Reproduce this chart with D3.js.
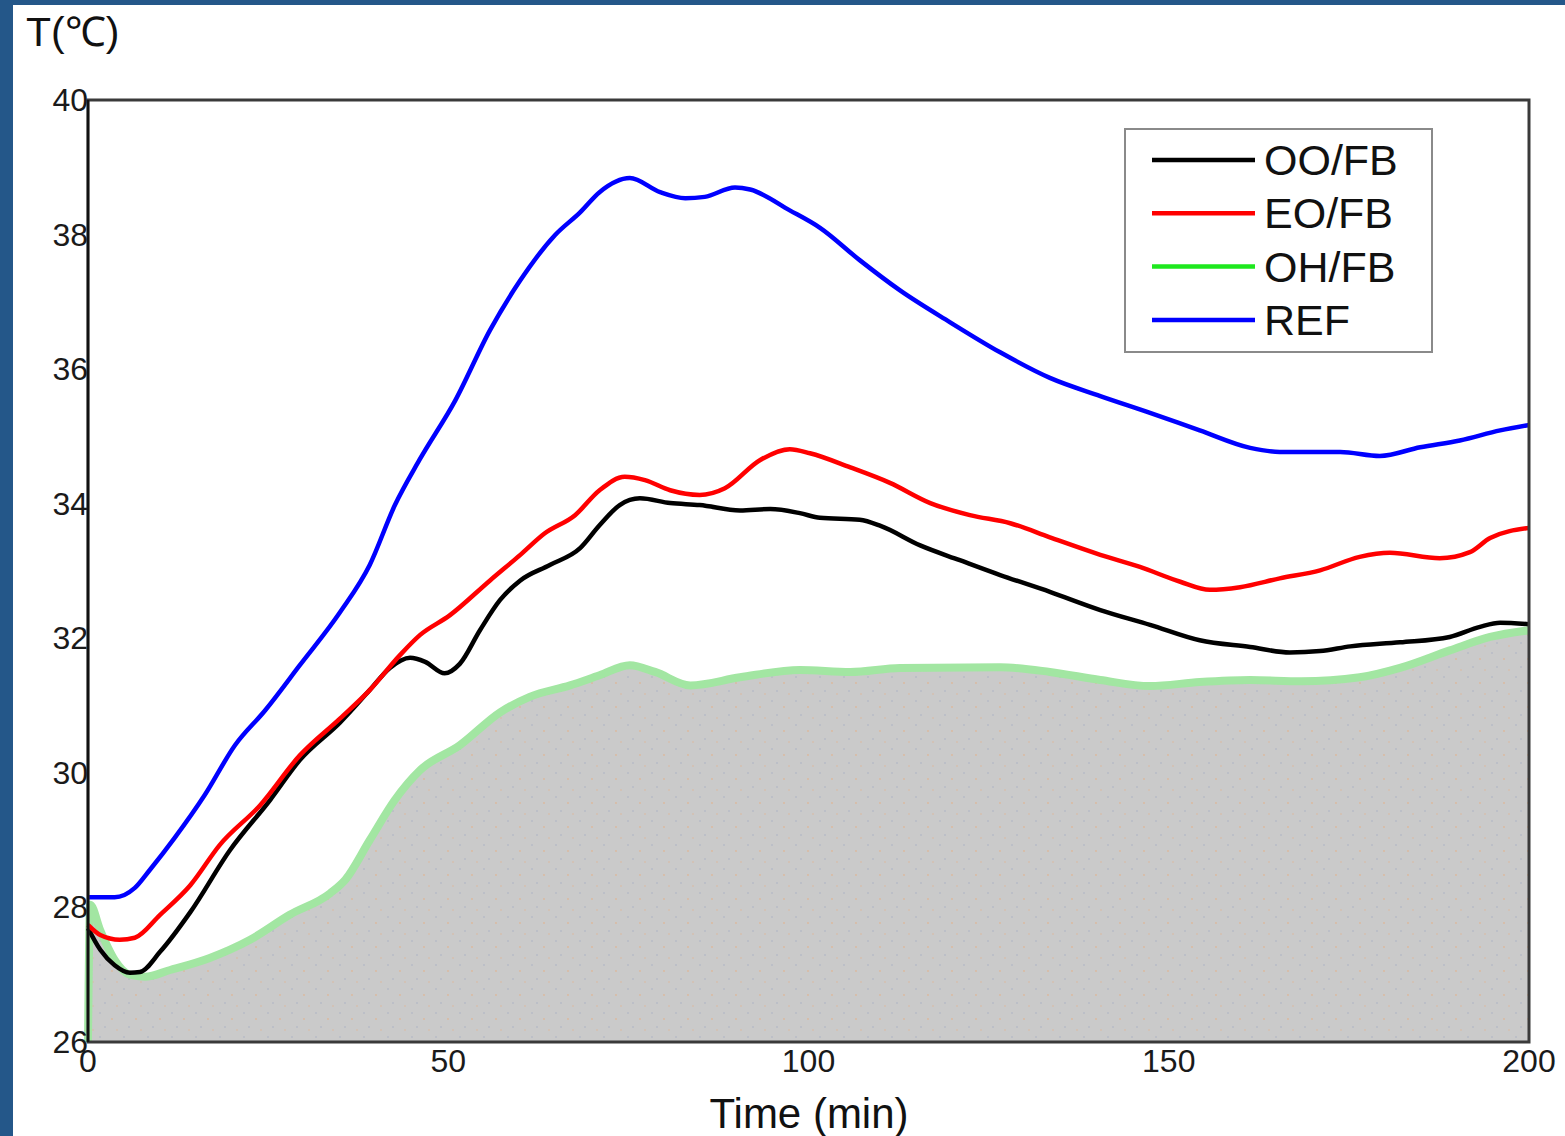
<!DOCTYPE html>
<html>
<head>
<meta charset="utf-8">
<script src="https://cdn.jsdelivr.net/npm/d3@7"></script>
<style>
  body { margin: 0; background: #fff; }
  svg { display: block; font-family: "Liberation Sans", Arial, sans-serif; }
</style>
</head>
<body>
<div id="chart"></div>
<script>
// values (time in min, temperature in degC)
var ooTime = [0, 1.7, 3.7, 5.8, 7.2, 10, 14.2, 19.7, 25.3, 29.4, 35, 39.1, 41.9, 44.7, 46.8, 49.5, 51.6, 54.4, 57.2, 60, 64.1, 68.3, 71, 73.8, 76.6, 80.8, 84.9, 90.5, 94.7, 98.8, 101.6, 107.1, 110, 115.5, 121, 126.6, 133.5, 140.5, 147.4, 154.3, 161.3, 166.8, 171, 175.2, 182.1, 189, 193.2, 196, 200];
var ooTemp = [27.69, 27.37, 27.14, 27.03, 27.04, 27.34, 27.93, 28.85, 29.6, 30.19, 30.75, 31.23, 31.56, 31.71, 31.65, 31.48, 31.62, 32.12, 32.57, 32.86, 33.09, 33.34, 33.68, 33.98, 34.08, 34.01, 33.98, 33.9, 33.92, 33.86, 33.79, 33.76, 33.67, 33.38, 33.16, 32.94, 32.69, 32.42, 32.2, 31.97, 31.87, 31.79, 31.81, 31.88, 31.94, 32.02, 32.17, 32.23, 32.21];

var eoTime = [0, 1.7, 4.4, 6.5, 10, 14.2, 18.3, 23.9, 29.4, 35, 39.1, 43.3, 46.1, 50.2, 55.8, 60, 63.4, 67.6, 71, 74.5, 77.3, 80.8, 84.9, 88.4, 93.3, 97.4, 100.2, 105.8, 111.3, 116.9, 122.4, 128, 133.5, 140.5, 146, 151.6, 155.7, 159.9, 165.4, 171, 176.5, 180.7, 187.6, 191.8, 194.6, 200];
var eoTemp = [27.74, 27.59, 27.52, 27.55, 27.89, 28.33, 28.93, 29.52, 30.26, 30.81, 31.23, 31.75, 32.05, 32.34, 32.86, 33.24, 33.56, 33.83, 34.2, 34.4, 34.35, 34.2, 34.13, 34.23, 34.65, 34.81, 34.75, 34.54, 34.31, 34.01, 33.83, 33.71, 33.5, 33.24, 33.06, 32.84, 32.72, 32.76, 32.89, 33.01, 33.21, 33.27, 33.19, 33.28, 33.49, 33.64];

var ohTime = [0, 0.3, 1.7, 3.7, 5.8, 7.9, 11.4, 16.9, 22.5, 28, 33.6, 35.7, 39.1, 42.6, 46.1, 51.6, 57.2, 61.3, 66.9, 71, 75.2, 78.7, 83.6, 90.5, 98.8, 105.8, 112.7, 126.6, 133.5, 140.5, 147.4, 154.3, 161.3, 168.4, 176.5, 182.1, 189, 194.6, 200];
var ohTemp = [26, 28.04, 27.66, 27.22, 27.0, 26.97, 27.07, 27.25, 27.52, 27.89, 28.21, 28.41, 29.0, 29.6, 30.04, 30.41, 30.9, 31.13, 31.3, 31.45, 31.6, 31.5, 31.3, 31.42, 31.53, 31.5, 31.56, 31.57, 31.5, 31.38, 31.29, 31.35, 31.38, 31.36, 31.42, 31.56, 31.82, 32.02, 32.12];

var refTime = [0, 3.7, 6.5, 8.6, 12, 16.2, 20.4, 24.6, 29.4, 35, 39.1, 42.6, 46, 51, 55.8, 60, 64.8, 68.3, 71, 75.2, 79.4, 82.9, 85.6, 89.8, 91.9, 97.4, 101.6, 107.1, 112.7, 119.6, 126.6, 133.5, 140.5, 147.4, 154.3, 161.3, 165.4, 173.8, 179.3, 184.9, 190.4, 196, 200];
var refTemp = [28.15, 28.15, 28.29, 28.56, 29.03, 29.67, 30.41, 30.93, 31.6, 32.39, 33.09, 33.98, 34.65, 35.54, 36.58, 37.32, 37.99, 38.33, 38.63, 38.84, 38.63, 38.54, 38.56, 38.7, 38.67, 38.36, 38.1, 37.62, 37.17, 36.7, 36.25, 35.87, 35.6, 35.35, 35.09, 34.83, 34.77, 34.77, 34.71, 34.84, 34.94, 35.09, 35.17];

var seriesNames = ["OO/FB", "EO/FB", "OH/FB", "REF"];
var xTicks = [0, 50, 100, 150, 200];
var yTicks = [26, 28, 30, 32, 34, 36, 38, 40];

function pairs(ts, vs) {
  return ts.map(function(t, i) { return { t: t, v: vs[i] }; });
}

var W = 1565, H = 1136;
var svg = d3.select("#chart").append("svg")
    .attr("width", W)
    .attr("height", H);

// frame of the screenshot
svg.append("rect").attr("width", W).attr("height", H).attr("fill", "#fff");
svg.append("rect").attr("x", 0).attr("y", 0).attr("width", W).attr("height", 5).attr("fill", "#245789");
svg.append("rect").attr("x", 0).attr("y", 0).attr("width", 13).attr("height", H).attr("fill", "#245789");

var x = d3.scaleLinear().domain([0, 200]).range([88, 1529]);
var y = d3.scaleLinear().domain([26, 40]).range([1042, 100]);

// dotted grey texture under OH/FB
var defs = svg.append("defs");
var pat = defs.append("pattern")
    .attr("id", "dots")
    .attr("patternUnits", "userSpaceOnUse")
    .attr("width", 24).attr("height", 24);
pat.append("rect").attr("width", 24).attr("height", 24).attr("fill", "#cacaca");
pat.append("circle").attr("cx", 4).attr("cy", 5).attr("r", 0.9).attr("fill", "#b6bac6");
pat.append("circle").attr("cx", 16).attr("cy", 11).attr("r", 0.9).attr("fill", "#dcb89c");
pat.append("circle").attr("cx", 9).attr("cy", 19).attr("r", 0.9).attr("fill", "#b6bac6");
pat.append("circle").attr("cx", 21).attr("cy", 22).attr("r", 0.8).attr("fill", "#dcb89c");

var ohData = pairs(ohTime, ohTemp);

svg.append("path")
    .datum(ohData)
    .attr("fill", "url(#dots)")
    .attr("d", d3.area()
        .x(function(d) { return x(d.t); })
        .y0(y(26))
        .y1(function(d) { return y(d.v); })
        .curve(d3.curveMonotoneX));

var line = d3.line()
    .x(function(d) { return x(d.t); })
    .y(function(d) { return y(d.v); })
    .curve(d3.curveMonotoneX);

svg.append("path")
    .datum(ohData)
    .attr("fill", "none")
    .attr("stroke", "#a2e6a2")
    .attr("stroke-width", 8)
    .attr("stroke-linejoin", "round")
    .attr("d", line);

svg.append("path")
    .datum(pairs(ooTime, ooTemp))
    .attr("fill", "none")
    .attr("stroke", "#000")
    .attr("stroke-width", 4.5)
    .attr("d", line);

svg.append("path")
    .datum(pairs(eoTime, eoTemp))
    .attr("fill", "none")
    .attr("stroke", "#ff0000")
    .attr("stroke-width", 4.5)
    .attr("d", line);

svg.append("path")
    .datum(pairs(refTime, refTemp))
    .attr("fill", "none")
    .attr("stroke", "#0000ff")
    .attr("stroke-width", 4.5)
    .attr("d", line);

// plot frame
svg.append("rect")
    .attr("x", x(0)).attr("y", y(40))
    .attr("width", x(200) - x(0)).attr("height", y(26) - y(40))
    .attr("fill", "none")
    .attr("stroke", "#3a3a3a")
    .attr("stroke-width", 3);
svg.append("line")
    .attr("x1", x(0)).attr("x2", x(0))
    .attr("y1", y(40)).attr("y2", y(26))
    .attr("stroke", "#111").attr("stroke-width", 2.5);

// tick labels
svg.selectAll(".ytick").data(yTicks).enter().append("text")
    .attr("class", "ytick")
    .attr("x", 88)
    .attr("y", function(d) { return y(d) + 11; })
    .attr("text-anchor", "end")
    .attr("font-size", 32)
    .attr("fill", "#1a1a1a")
    .text(function(d) { return d; });

svg.selectAll(".xtick").data(xTicks).enter().append("text")
    .attr("class", "xtick")
    .attr("x", function(d) { return x(d); })
    .attr("y", 1072)
    .attr("text-anchor", "middle")
    .attr("font-size", 32)
    .attr("fill", "#1a1a1a")
    .text(function(d) { return d; });

// axis titles
svg.append("text")
    .attr("x", 26).attr("y", 46)
    .attr("font-size", 41)
    .attr("fill", "#111")
    .text("T(℃)");

svg.append("text")
    .attr("x", 809).attr("y", 1128)
    .attr("text-anchor", "middle")
    .attr("font-size", 42)
    .attr("fill", "#111")
    .text("Time (min)");

// legend
var legendColors = ["#000", "#ff0000", "#1ee81e", "#0000ff"];
svg.append("rect")
    .attr("x", 1125).attr("y", 129)
    .attr("width", 307).attr("height", 223)
    .attr("fill", "#fff")
    .attr("stroke", "#8a8a8a")
    .attr("stroke-width", 2);

var leg = svg.selectAll(".leg").data(seriesNames).enter().append("g")
    .attr("class", "leg")
    .attr("transform", function(d, i) { return "translate(0," + (160 + i * 53.3) + ")"; });
leg.append("line")
    .attr("x1", 1152).attr("x2", 1255)
    .attr("stroke", function(d, i) { return legendColors[i]; })
    .attr("stroke-width", 4.5);
leg.append("text")
    .attr("x", 1264).attr("y", 15)
    .attr("font-size", 43)
    .attr("fill", "#111")
    .text(function(d) { return d; });
</script>
</body>
</html>
